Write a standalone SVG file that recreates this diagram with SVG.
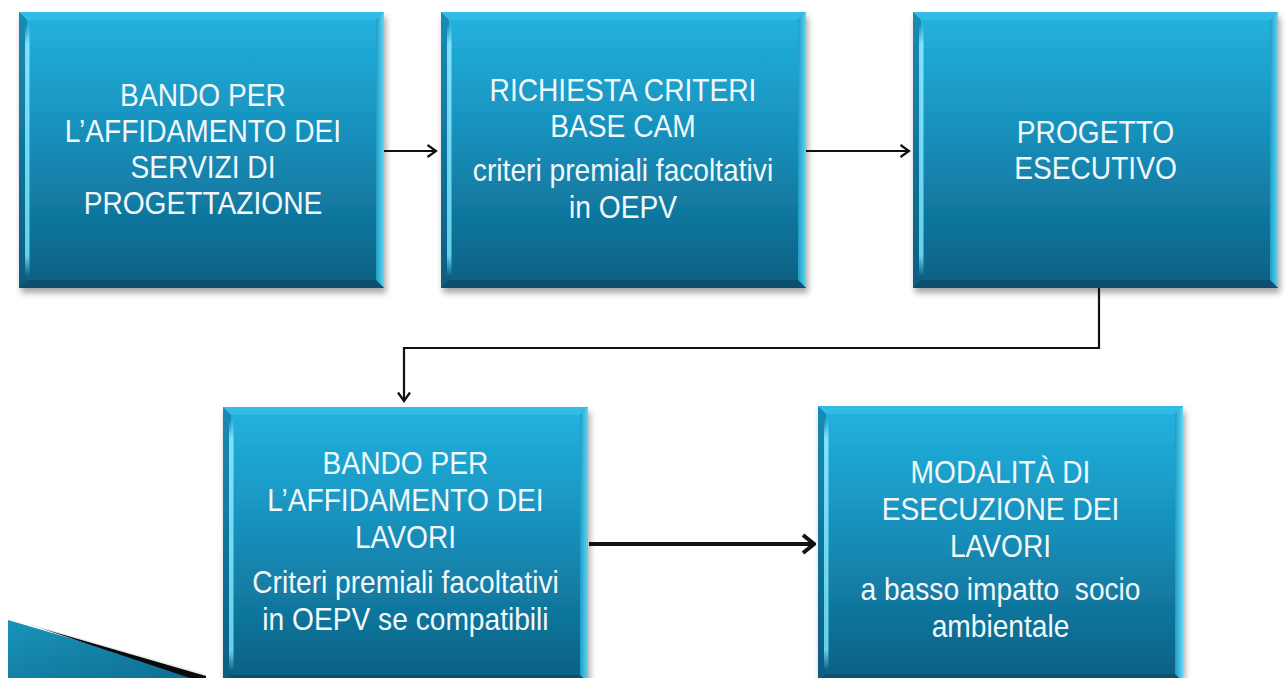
<svg xmlns="http://www.w3.org/2000/svg" xmlns:xlink="http://www.w3.org/1999/xlink" width="1286" height="678" viewBox="0 0 1286 678">
  <defs>
    <style>
      .label { font-family: "Liberation Sans", Arial, sans-serif; font-size: 32px; fill: #f2f8fa; text-anchor: middle; }
      .wire { fill: none; stroke: #111; stroke-width: 2.2; }
      .wire-bold { fill: none; stroke: #111; stroke-width: 4; }
    </style>

    <!-- box body: light cyan at the top, deep teal at the bottom -->
    <linearGradient id="boxFill" x1="0" y1="0" x2="0" y2="1">
      <stop offset="0" stop-color="#23b3e0"/>
      <stop offset="0.45" stop-color="#178fba"/>
      <stop offset="1" stop-color="#0b5f82"/>
    </linearGradient>
    <linearGradient id="leftGlow" x1="0" y1="0" x2="0" y2="1">
      <stop offset="0" stop-color="#8ceaff" stop-opacity="0"/>
      <stop offset="0.08" stop-color="#8ceaff" stop-opacity="0.9"/>
      <stop offset="0.92" stop-color="#6fdcf5" stop-opacity="0.9"/>
      <stop offset="1" stop-color="#6fdcf5" stop-opacity="0"/>
    </linearGradient>
    <linearGradient id="rightBevel" x1="0" y1="0" x2="1" y2="0">
      <stop offset="0" stop-color="#1c9cc6"/>
      <stop offset="1" stop-color="#62d6f2"/>
    </linearGradient>
    <linearGradient id="wedgeFill" x1="0" y1="0" x2="1" y2="1">
      <stop offset="0" stop-color="#1a93bb"/>
      <stop offset="1" stop-color="#0d6e91"/>
    </linearGradient>

    <filter id="shadow" x="-5%" y="-5%" width="115%" height="115%">
      <feDropShadow dx="2" dy="5" stdDeviation="3" flood-color="#000" flood-opacity="0.35"/>
    </filter>

    <!-- bevelled box shared by every step -->
    <symbol id="box" viewBox="0 0 365 276" width="365" height="276" overflow="visible">
      <rect x="0" y="0" width="365" height="276" fill="url(#boxFill)"/>
      <polygon points="0,0 365,0 357,8 8,8" fill="#40c8ef" opacity="0.45"/>
      <polygon points="0,0 8,8 8,268 0,276" fill="#0a5a7e" opacity="0.45"/>
      <polygon points="365,0 357,8 357,268 365,276" fill="url(#rightBevel)"/>
      <polygon points="0,276 8,268 357,268 365,276" fill="#073f58" opacity="0.5"/>
      <rect x="6" y="12" width="4.5" height="252" rx="2" fill="url(#leftGlow)"/>
    </symbol>

    <marker id="head" viewBox="0 0 12 14" markerWidth="12" markerHeight="14" refX="10.5" refY="7" orient="auto" markerUnits="userSpaceOnUse">
      <path d="M2,1 L10.5,7 L2,13" fill="none" stroke="#111" stroke-width="2.2"/>
    </marker>
    <marker id="headBold" viewBox="0 0 16 22" markerWidth="16" markerHeight="22" refX="14" refY="11" orient="auto" markerUnits="userSpaceOnUse">
      <path d="M3,2 L14,11 L3,20" fill="none" stroke="#111" stroke-width="4"/>
    </marker>
  </defs>

  <rect x="0" y="0" width="1286" height="678" fill="#ffffff"/>

  <!-- corner wedge ornament -->
  <g id="ornament">
    <polygon points="8,620 206,678 8,678" fill="url(#wedgeFill)"/>
    <polygon points="30,624 206,674 206,678 196,678 30,625" fill="#e4edf1"/>
    <polygon points="40,628 206,676 206,681 190,678" fill="#0a0a0a"/>
  </g>

  <!-- steps -->
  <g id="step-bando-progettazione">
    <use xlink:href="#box" x="19" y="12" filter="url(#shadow)"/>
    <g transform="translate(203,0) scale(0.88,1)">
      <text class="label" x="0" y="106">BANDO PER</text>
      <text class="label" x="0" y="142">L’AFFIDAMENTO DEI</text>
      <text class="label" x="0" y="178">SERVIZI DI</text>
      <text class="label" x="0" y="214">PROGETTAZIONE</text>
    </g>
  </g>

  <g id="step-criteri-cam">
    <use xlink:href="#box" x="441" y="12" filter="url(#shadow)"/>
    <g transform="translate(623,0) scale(0.88,1)">
      <text class="label" x="0" y="101">RICHIESTA CRITERI</text>
      <text class="label" x="0" y="137">BASE CAM</text>
      <text class="label" x="0" y="181">criteri premiali facoltativi</text>
      <text class="label" x="0" y="218">in OEPV</text>
    </g>
  </g>

  <g id="step-progetto-esecutivo">
    <use xlink:href="#box" x="913" y="12" filter="url(#shadow)"/>
    <g transform="translate(1095.5,0) scale(0.88,1)">
      <text class="label" x="0" y="143">PROGETTO</text>
      <text class="label" x="0" y="179">ESECUTIVO</text>
    </g>
  </g>

  <g id="step-bando-lavori">
    <use xlink:href="#box" x="223" y="407" filter="url(#shadow)"/>
    <g transform="translate(405.5,0) scale(0.88,1)">
      <text class="label" x="0" y="474">BANDO PER</text>
      <text class="label" x="0" y="511">L’AFFIDAMENTO DEI</text>
      <text class="label" x="0" y="548">LAVORI</text>
      <text class="label" x="0" y="593">Criteri premiali facoltativi</text>
      <text class="label" x="0" y="630">in OEPV se compatibili</text>
    </g>
  </g>

  <g id="step-esecuzione-lavori">
    <use xlink:href="#box" x="818" y="406" filter="url(#shadow)"/>
    <g transform="translate(1000.5,0) scale(0.88,1)">
      <text class="label" x="0" y="483">MODALITÀ DI</text>
      <text class="label" x="0" y="520">ESECUZIONE DEI</text>
      <text class="label" x="0" y="557">LAVORI</text>
      <text class="label" x="0" y="600" xml:space="preserve">a basso impatto  socio</text>
      <text class="label" x="0" y="637">ambientale</text>
    </g>
  </g>

  <!-- connectors -->
  <g id="connectors">
    <line class="wire" x1="384" y1="151" x2="436" y2="151" marker-end="url(#head)"/>
    <line class="wire" x1="806" y1="151" x2="909" y2="151" marker-end="url(#head)"/>
    <polyline class="wire" points="1099,288 1099,348 404,348 404,401" marker-end="url(#head)"/>
    <line class="wire-bold" x1="589" y1="544" x2="814" y2="544" marker-end="url(#headBold)"/>
  </g>
</svg>
